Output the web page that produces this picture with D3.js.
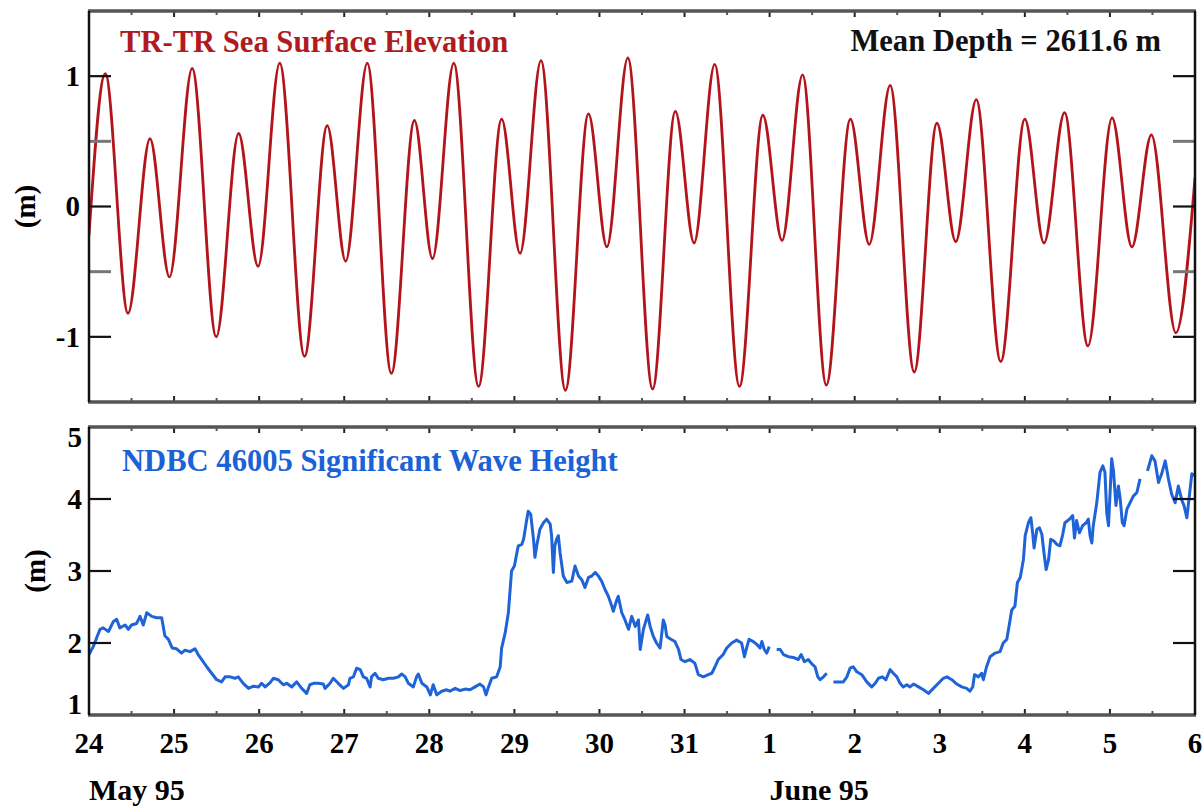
<!DOCTYPE html>
<html>
<head>
<meta charset="utf-8">
<script src="https://cdn.jsdelivr.net/npm/d3@7"></script>
<style>
  body { margin: 0; background: #fff; }
  text { font-family: "Liberation Serif", "Times New Roman", serif; font-weight: bold; }
</style>
</head>
<body>
<script>
// hours from 24 May 1995 00:00 UTC, high and low water of the tide record
var tideHours = [0, 4.6, 11.0, 17.2, 22.7, 29.1, 35.9, 42.2, 47.7, 53.8, 60.8, 67.2, 72.4,
  78.5, 85.3, 91.8, 96.9, 102.9, 109.9, 116.4, 121.6, 127.5, 134.4, 140.9, 146.1,
  152.0, 159.0, 165.4, 170.7, 176.5, 183.5, 190.1, 195.5, 201.3, 208.0, 214.8, 220.1,
  226.0, 232.8, 239.2, 244.5, 250.3, 257.2, 264.0, 269.4, 275.2, 281.8, 288.6, 294.2,
  299.7, 306.6, 312];
var tideElev = [-0.22, 1.02, -0.82, 0.52, -0.54, 1.06, -1.00, 0.56, -0.46, 1.10, -1.15, 0.62, -0.42,
  1.10, -1.28, 0.66, -0.40, 1.10, -1.38, 0.67, -0.36, 1.12, -1.41, 0.71, -0.31,
  1.14, -1.40, 0.73, -0.28, 1.09, -1.38, 0.70, -0.26, 1.01, -1.37, 0.67, -0.29,
  0.93, -1.27, 0.64, -0.27, 0.82, -1.19, 0.67, -0.28, 0.72, -1.07, 0.68, -0.31,
  0.55, -0.97, 0.22];

// NDBC 46005 significant wave height (null = missing)
var waveHours = [0, 1.2, 3.1, 4.0, 5.5, 6.9, 7.8, 8.7, 10.2, 11.1, 12.0, 13.4, 14.4, 15.3, 16.3,
  17.7, 19.1, 20.5, 21.4, 22.4, 23.5, 24.7, 26.1, 27.1, 28.5, 29.9, 30.8, 31.8, 33.2,
  34.6, 36.0, 37.4, 38.4, 39.8, 41.2, 42.1, 43.5, 45.0, 46.4, 47.8, 48.7, 49.7, 51.1,
  52.0, 53.4, 54.8, 55.8, 57.2, 58.6, 60.0, 61.4, 62.3, 63.3, 64.7, 66.1, 66.6, 68.0,
  68.9, 70.3, 71.8, 73.2, 73.6, 74.6, 75.5, 76.5, 77.4, 78.3, 79.3,
  79.7, 80.7, 81.6, 83.0, 84.5, 85.9, 87.3, 88.2, 89.2, 90.1, 91.5, 92.4, 92.9, 93.9,
  95.3, 96.3, 97.1, 98.1, 99.5, 100.9, 101.8, 103.3, 104.7, 106.1, 107.5, 108.9, 110.3,
  111.3, 112.0, 112.7, 113.6, 115.0, 116.0, 116.4, 117.4, 118.3, 118.8, 119.2, 120.0,
  120.7, 121.1, 122.1, 122.6, 123.5, 123.9, 124.6, 125.4, 125.8, 126.3, 127.2, 128.2,
  129.1, 130.1, 130.5, 131.0, 131.4, 131.9, 132.4, 132.9, 133.8, 134.8, 136.2, 137.1,
  138.1, 139.0, 139.9, 140.9, 141.8, 142.8, 143.7, 144.6, 145.6, 146.5, 147.5, 147.9,
  148.9, 149.3, 150.3, 151.2, 152.2, 153.1, 154.1, 155.0, 155.5, 156.4,
  157.6, 158.3, 159.2, 160.1, 161.1, 161.6, 162.0, 162.5, 163.0, 163.9, 165.3, 166.3,
  167.0, 168.1, 169.5, 170.9, 171.9, 173.3, 174.7, 175.7, 176.6, 177.5, 178.9, 179.9,
  181.3, 182.7, 184.1, 184.9, 185.6, 186.2, 187.4, 188.4, 189.3, 189.8, 190.5, 191.2,
  191.9, 193.0, 194.0, 195.0, 195.9, 197.3, 198.7, 200.1, 200.9, 201.8, 202.9, 203.9,
  204.8, 205.6, 206.2, 207.2, 208.1, 209.0, 210.0, 211.4, 212.8, 213.8, 214.7, 215.6,
  216.6, 218.0, 219.4, 220.8, 221.8, 222.7, 223.8, 224.8, 226.0, 226.9, 227.9, 228.8,
  229.7, 230.7, 231.6, 232.6, 234.0, 235.4, 236.8,
  238.2, 239.6, 241.0, 242.0, 243.4, 244.8, 246.2, 247.6, 248.5, 249.3, 249.8, 250.9,
  251.8, 252.3, 253.2, 254.2, 255.6, 257.0, 257.9, 258.9, 259.6, 260.3, 261.2, 261.9,
  262.7, 263.6, 264.1, 265.0, 265.7, 266.2, 266.6, 267.4, 268.1, 268.8, 269.4, 270.0,
  270.7, 271.3, 272.1, 273.0, 273.9, 274.7, 275.3, 276.6, 277.5, 278.0, 278.6, 279.4,
  280.3, 281.3, 281.9, 282.4, 282.9, 283.3, 284.3, 285.2, 286.0, 286.6, 287.1, 287.6,
  288.0, 288.5, 289.0, 289.7, 290.4, 290.9, 291.5, 292.0, 292.8, 293.7, 294.6, 295.6,
  296.5, 297.5, 298.6, 299.8, 300.7, 301.7, 302.6, 303.6, 304.5, 305.4, 306.4, 307.3,
  308.3, 308.9, 309.7, 310.4, 311.1, 311.7, 312];
var waveHeight = [1.84, 1.95, 2.19, 2.21, 2.16, 2.30, 2.33, 2.21, 2.25, 2.19, 2.25, 2.27, 2.37, 2.25, 2.42,
  2.37, 2.35, 2.35, 2.10, 2.05, 1.93, 1.92, 1.86, 1.90, 1.88, 1.92, 1.84, 1.77, 1.67,
  1.58, 1.49, 1.46, 1.53, 1.53, 1.51, 1.53, 1.44, 1.37, 1.40, 1.39, 1.44, 1.39, 1.45,
  1.51, 1.49, 1.42, 1.44, 1.39, 1.46, 1.37, 1.30, 1.42, 1.44, 1.44, 1.43, 1.37, 1.44,
  1.51, 1.44, 1.37, 1.42, 1.51, 1.53, 1.65, 1.63, 1.53, 1.51, 1.39,
  1.53, 1.58, 1.51, 1.49, 1.51, 1.51, 1.53, 1.57, 1.53, 1.44, 1.39, 1.53, 1.57, 1.44,
  1.39, 1.28, 1.42, 1.28, 1.33, 1.35, 1.33, 1.37, 1.34, 1.36, 1.35, 1.39, 1.43,
  1.39, 1.28, 1.39, 1.51, 1.53, 1.67, 1.93, 2.14, 2.42, 2.74, 3.00, 3.07,
  3.25, 3.35, 3.37, 3.44, 3.72, 3.83, 3.79, 3.44, 3.19, 3.35, 3.58, 3.67,
  3.72, 3.65, 3.49, 2.98, 3.35, 3.44, 3.49, 3.25, 2.93, 2.84, 2.86, 3.07,
  2.93, 2.88, 2.77, 2.91, 2.93, 2.98, 2.93, 2.86, 2.74, 2.65, 2.51, 2.44,
  2.60, 2.65, 2.42, 2.32, 2.19, 2.37, 2.23, 2.32, 1.91, 2.19,
  2.39, 2.23, 2.09, 2.00, 1.93, 2.14, 2.32, 2.25, 2.09, 2.06, 2.02, 1.91,
  1.77, 1.74, 1.77, 1.72, 1.56, 1.53, 1.56, 1.58, 1.67, 1.77, 1.84, 1.93,
  2.00, 2.04, 2.00, 1.81, 1.95, 2.05, 2.02, 1.98, 1.93, 2.02, 1.91, 1.86,
  1.95, null, 1.91, 1.91, 1.84, 1.81, 1.80, 1.77, 1.84, 1.74, 1.77, 1.71,
  1.67, 1.53, 1.49, 1.53, 1.58, null, 1.46, 1.46, 1.46, 1.53, 1.65, 1.67,
  1.60, 1.56, 1.46, 1.39, 1.44, 1.51, 1.53, 1.49, 1.63, 1.58, 1.53, 1.44,
  1.39, 1.42, 1.39, 1.43, 1.39, 1.35, 1.30,
  1.37, 1.44, 1.51, 1.53, 1.49, 1.43, 1.39, 1.37, 1.33, 1.39, 1.56, 1.53,
  1.58, 1.49, 1.67, 1.81, 1.86, 1.88, 2.00, 2.05, 2.25, 2.46, 2.51, 2.84,
  2.91, 3.16, 3.49, 3.67, 3.74, 3.53, 3.32, 3.58, 3.60, 3.51, 3.25, 3.02,
  3.16, 3.44, 3.42, 3.37, 3.35, 3.51, 3.67, 3.72, 3.77, 3.46, 3.70, 3.53,
  3.63, 3.67, 3.72, 3.49, 3.39, 3.63, 3.95, 4.37, 4.46, 4.37, 3.81, 3.63,
  4.04, 4.56, 4.39, 3.91, 4.18, 4.00, 3.67, 3.63, 3.86, 3.95, 4.04, 4.09,
  4.28, null, 4.39, 4.60, 4.53, 4.23, 4.35, 4.53, 4.28, 4.07, 3.95, 4.18,
  3.98, 3.91, 3.74, 4.04, 4.35, 4.33, 4.35];

var dayLabels = ["24", "25", "26", "27", "28", "29", "30", "31", "1", "2", "3", "4", "5", "6"];
var monthLabels = [{ day: 0, text: "May 95" }, { day: 8, text: "June 95" }];
var tideTicks = [-1, 0, 1];
var tideMinor = [-0.5, 0.5];
var waveTicks = [1, 2, 3, 4, 5];

var svgWidth = 1204;
var svgHeight = 810;
var left = 89, right = 1195;

var svg = d3.select("body")
  .append("svg")
  .attr("width", svgWidth)
  .attr("height", svgHeight);

var x = d3.scaleLinear()
  .domain([0, 312])
  .range([left, right]);

// panels
var panels = [
  { top: 11, bottom: 402, domain: [-1.5, 1.5] },
  { top: 427, bottom: 715, domain: [1, 5] }
];
panels.forEach(function(p) {
  p.y = d3.scaleLinear().domain(p.domain).range([p.bottom, p.top]);
});
var yTide = panels[0].y;
var yWave = panels[1].y;

// clip paths
var defs = svg.append("defs");
panels.forEach(function(p, i) {
  defs.append("clipPath").attr("id", "clip" + i)
    .append("rect")
    .attr("x", left).attr("y", p.top)
    .attr("width", right - left).attr("height", p.bottom - p.top);
});

// tide line
var tideData = tideHours.map(function(h, i) { return [h, tideElev[i]]; });
var tideLine = d3.line()
  .x(d => x(d[0]))
  .y(d => yTide(d[1]))
  .curve(d3.curveMonotoneX);

svg.append("path")
  .datum(tideData)
  .attr("clip-path", "url(#clip0)")
  .attr("fill", "none")
  .attr("stroke", "#b3141c")
  .attr("stroke-width", 2.8)
  .attr("d", tideLine);

// wave height line
var waveData = waveHours.map(function(h, i) { return [h, waveHeight[i]]; });
var waveLine = d3.line()
  .defined(d => d[1] !== null)
  .x(d => x(d[0]))
  .y(d => yWave(d[1]));

svg.append("path")
  .datum(waveData)
  .attr("clip-path", "url(#clip1)")
  .attr("fill", "none")
  .attr("stroke", "#1f63d8")
  .attr("stroke-width", 3)
  .attr("stroke-linejoin", "round")
  .attr("d", waveLine);

// x ticks on top and bottom of both panels
var majorHours = d3.range(0, 313, 24);
var minorHours = d3.range(12, 312, 24);
panels.forEach(function(p) {
  [p.top, p.bottom].forEach(function(yy, k) {
    var dir = k === 0 ? 1 : -1;
    svg.selectAll(null).data(majorHours).enter().append("line")
      .attr("x1", d => x(d)).attr("x2", d => x(d))
      .attr("y1", yy).attr("y2", yy + dir * 6)
      .attr("stroke", "#222").attr("stroke-width", 2);
    svg.selectAll(null).data(minorHours).enter().append("line")
      .attr("x1", d => x(d)).attr("x2", d => x(d))
      .attr("y1", yy).attr("y2", yy + dir * 4)
      .attr("stroke", "#555").attr("stroke-width", 2);
  });
});

// y ticks, both sides
function yTicks(values, scale, color, width) {
  svg.selectAll(null).data(values).enter().append("line")
    .attr("x1", left).attr("x2", left + 22)
    .attr("y1", d => scale(d)).attr("y2", d => scale(d))
    .attr("stroke", color).attr("stroke-width", width);
  svg.selectAll(null).data(values).enter().append("line")
    .attr("x1", right - 22).attr("x2", right)
    .attr("y1", d => scale(d)).attr("y2", d => scale(d))
    .attr("stroke", color).attr("stroke-width", width);
}
yTicks(tideTicks, yTide, "#111", 2.2);
yTicks(tideMinor, yTide, "#777", 3);
yTicks([2, 3, 4], yWave, "#111", 2.2);

// frames
panels.forEach(function(p) {
  svg.append("line").attr("x1", left - 1).attr("x2", right + 1).attr("y1", p.top).attr("y2", p.top)
    .attr("stroke", "#555").attr("stroke-width", 3.5);
  svg.append("line").attr("x1", left - 1).attr("x2", right + 1).attr("y1", p.bottom).attr("y2", p.bottom)
    .attr("stroke", "#555").attr("stroke-width", 3.5);
  svg.append("line").attr("x1", left).attr("x2", left).attr("y1", p.top).attr("y2", p.bottom)
    .attr("stroke", "#111").attr("stroke-width", 2.5);
  svg.append("line").attr("x1", right).attr("x2", right).attr("y1", p.top).attr("y2", p.bottom)
    .attr("stroke", "#111").attr("stroke-width", 2.5);
});

// y tick labels
svg.selectAll(null).data(tideTicks).enter().append("text")
  .attr("x", 80).attr("y", d => yTide(d))
  .attr("dy", "0.34em")
  .attr("text-anchor", "end")
  .attr("font-size", 29)
  .text(d => d);

svg.selectAll(null).data(waveTicks).enter().append("text")
  .attr("x", 82)
  .attr("y", function(d) {
    if (d === 5) return yWave(d) + 20;
    if (d === 1) return yWave(d) - 1;
    return yWave(d) + 10;
  })
  .attr("text-anchor", "end")
  .attr("font-size", 29)
  .text(d => d);

// y axis titles
svg.append("text")
  .attr("transform", "translate(35," + yTide(0) + ") rotate(-90)")
  .attr("text-anchor", "middle")
  .attr("font-size", 29)
  .text("(m)");
svg.append("text")
  .attr("transform", "translate(45," + yWave(3) + ") rotate(-90)")
  .attr("text-anchor", "middle")
  .attr("font-size", 29)
  .text("(m)");

// day labels
svg.selectAll(null).data(dayLabels).enter().append("text")
  .attr("x", (d, i) => x(i * 24))
  .attr("y", 753)
  .attr("text-anchor", "middle")
  .attr("font-size", 29)
  .text(d => d);

svg.selectAll(null).data(monthLabels).enter().append("text")
  .attr("x", d => x(d.day * 24))
  .attr("y", 800)
  .attr("font-size", 30)
  .text(d => d.text);

// panel titles
svg.append("text")
  .attr("x", 120).attr("y", 52)
  .attr("font-size", 30.6)
  .attr("fill", "#b01a20")
  .text("TR-TR Sea Surface Elevation");

svg.append("text")
  .attr("x", 1161).attr("y", 51)
  .attr("text-anchor", "end")
  .attr("font-size", 30.6)
  .attr("fill", "#111")
  .text("Mean Depth = 2611.6 m");

svg.append("text")
  .attr("x", 122).attr("y", 471)
  .attr("font-size", 30.6)
  .attr("fill", "#1a62d6")
  .text("NDBC 46005 Significant Wave Height");
</script>
</body>
</html>
